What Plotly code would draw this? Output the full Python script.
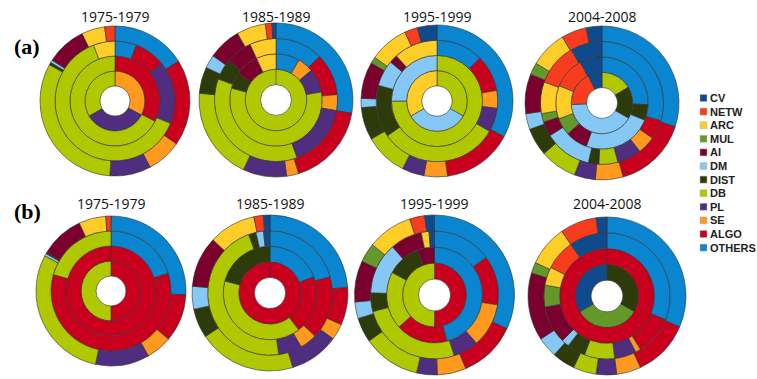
import plotly.graph_objects as go

W, H = 757, 379

CATEGORIES = ["CV", "NETW", "ARC", "MUL", "AI", "DM", "DIST", "DB", "PL", "SE", "ALGO", "OTHERS"]
COLORS = {
    "CV": "#0F4B8C", "NETW": "#F83C1E", "ARC": "#FFCD28", "MUL": "#64992A",
    "AI": "#7A002D", "DM": "#85C8F5", "DIST": "#2D3A0A", "DB": "#AFC800",
    "PL": "#4F2D7F", "SE": "#FF9A1E", "ALGO": "#C8001E", "OTHERS": "#0A86D0",
}
PERIODS = ["1975-1979", "1985-1989", "1995-1999", "2004-2008"]

# shares per ring (inner -> outer), clockwise from 12 o'clock, in degrees of the circle
A_1975 = [
    [("SE", 118), ("PL", 122), ("DB", 120)],
    [("ALGO", 117), ("DB", 243)],
    [("OTHERS", 21), ("ALGO", 30), ("PL", 61), ("DB", 227), ("ARC", 21)],
    [("OTHERS", 58), ("ALGO", 67), ("SE", 27), ("PL", 32), ("DB", 115), ("DIST", 2),
     ("DM", 2), ("AI", 31), ("ARC", 18), ("NETW", 8)],
]
A_1985 = [
    [("DB", 360)],
    [("OTHERS", 30), ("SE", 20), ("PL", 30), ("DB", 205), ("DIST", 20), ("AI", 30), ("ARC", 25)],
    [("OTHERS", 45), ("ALGO", 40), ("SE", 15), ("PL", 60), ("DB", 130), ("DIST", 20),
     ("AI", 25), ("ARC", 25)],
    [("OTHERS", 100), ("ALGO", 63), ("SE", 9), ("PL", 33), ("DB", 70), ("DIST", 20),
     ("DM", 10), ("AI", 25), ("ARC", 22), ("NETW", 5), ("CV", 3)],
]
A_1995 = [
    [("DB", 120), ("DM", 120), ("ARC", 120)],
    [("DB", 270), ("DM", 90)],
    [("OTHERS", 45), ("ALGO", 35), ("SE", 17), ("PL", 23), ("DB", 115), ("DIST", 50),
     ("DM", 25), ("AI", 8), ("ARC", 42)],
    [("OTHERS", 118), ("ALGO", 54), ("SE", 18), ("PL", 17), ("DB", 33), ("DIST", 25),
     ("DM", 7), ("AI", 28), ("MUL", 5), ("ARC", 30), ("NETW", 10), ("CV", 15)],
]
A_2004 = [
    [("DB", 59), ("DIST", 61), ("DM", 147), ("NETW", 66), ("CV", 27)],
    [("OTHERS", 92), ("DIST", 20), ("DM", 88), ("AI", 28), ("MUL", 22), ("ARC", 42),
     ("NETW", 40), ("CV", 28)],
    [("OTHERS", 107), ("ALGO", 18), ("SE", 17), ("PL", 23), ("DB", 18), ("DIST", 10),
     ("DM", 45), ("AI", 14), ("MUL", 8), ("ARC", 30), ("NETW", 40), ("CV", 30)],
    [("OTHERS", 108), ("ALGO", 56), ("SE", 21), ("PL", 16), ("DB", 28), ("DIST", 21),
     ("DM", 12), ("AI", 30), ("MUL", 9), ("ARC", 28), ("NETW", 19), ("CV", 12)],
]

B_1975 = [
    [("ALGO", 180), ("DB", 180)],
    [("ALGO", 360)],
    [("OTHERS", 73), ("ALGO", 213), ("DB", 74)],
    [("OTHERS", 93), ("ALGO", 37), ("SE", 20), ("PL", 42), ("DB", 106), ("DM", 2),
     ("DIST", 1), ("AI", 34), ("ARC", 21), ("NETW", 4)],
]
B_1985 = [
    [("ALGO", 360)],
    [("OTHERS", 70), ("ALGO", 72), ("DB", 143), ("DIST", 75)],
    [("OTHERS", 75), ("ALGO", 59), ("SE", 16), ("PL", 22), ("DB", 168), ("DIST", 7),
     ("DM", 7), ("CV", 6)],
    [("OTHERS", 86), ("ALGO", 28), ("SE", 12), ("PL", 37), ("DB", 73), ("DIST", 22),
     ("DM", 17), ("AI", 38), ("ARC", 35), ("NETW", 7), ("CV", 5)],
]
B_1995 = [
    [("ALGO", 180), ("DB", 180)],
    [("OTHERS", 165), ("ALGO", 63), ("DB", 70), ("DIST", 41), ("AI", 21)],
    [("OTHERS", 54), ("ALGO", 45), ("SE", 40), ("PL", 23), ("DB", 93), ("DIST", 17),
     ("DM", 47), ("AI", 29), ("ARC", 7), ("CV", 5)],
    [("OTHERS", 115), ("ALGO", 42), ("SE", 21), ("PL", 15), ("DB", 42), ("DIST", 18),
     ("DM", 12), ("AI", 30), ("MUL", 14), ("ARC", 33), ("NETW", 11), ("CV", 7)],
]
B_2004 = [
    [("DIST", 120), ("MUL", 120), ("CV", 120)],
    [("ALGO", 360)],
    [("OTHERS", 112), ("ALGO", 36), ("SE", 5), ("PL", 20), ("DB", 28), ("DIST", 17),
     ("DM", 7), ("AI", 35), ("MUL", 20), ("ARC", 17), ("NETW", 28), ("CV", 35)],
    [("OTHERS", 113), ("ALGO", 42), ("SE", 18), ("PL", 15), ("DB", 17), ("DIST", 17),
     ("DM", 15), ("AI", 50), ("MUL", 8), ("ARC", 30), ("NETW", 27), ("CV", 8)],
]

PANEL_A = [A_1975, A_1985, A_1995, A_2004]
PANEL_B = [B_1975, B_1985, B_1995, B_2004]

# layout (pixels): donut centers and outer radii, title positions
A_CENTERS = [(115, 101, 75), (276, 100, 77), (437, 101, 76), (602, 103, 77)]
B_CENTERS = [(111, 291, 75), (270, 293, 78), (434.5, 295, 80), (607, 296, 79)]
A_TITLE_Y = 16
B_TITLE_Y = 203
LINE_COLOR = "#333333"

fig = go.Figure()
shapes = []


def add_donut(rings, cx, cy, R):
    n = len(rings)
    for k, ring in enumerate(rings, start=1):
        Rk = R * (k + 1) / (n + 1)
        rk = R * k / (n + 1)
        labels = [c for c, _ in ring]
        values = [v for _, v in ring]
        fig.add_trace(go.Pie(
            labels=labels, values=values, sort=False, direction="clockwise",
            rotation=0, hole=k / (k + 1), textinfo="none", showlegend=False,
            hoverinfo="label+percent",
            marker=dict(colors=[COLORS[c] for c in labels],
                        line=dict(color=LINE_COLOR, width=0.6)),
            domain=dict(x=[(cx - Rk) / W, (cx + Rk) / W],
                        y=[1 - (cy + Rk) / H, 1 - (cy - Rk) / H]),
        ))
        if len(ring) == 1:
            # seam of a full ring at 12 o'clock
            shapes.append(dict(type="line", xref="paper", yref="paper",
                               x0=cx / W, x1=cx / W,
                               y0=1 - (cy - rk) / H, y1=1 - (cy - Rk) / H,
                               line=dict(color=LINE_COLOR, width=0.6)))


annotations = []
for panel, centers, ty in [(PANEL_A, A_CENTERS, A_TITLE_Y), (PANEL_B, B_CENTERS, B_TITLE_Y)]:
    for rings, (cx, cy, R), period in zip(panel, centers, PERIODS):
        add_donut(rings, cx, cy, R)
        annotations.append(dict(
            text=period, x=cx / W, y=1 - ty / H, xref="paper", yref="paper",
            xanchor="center", yanchor="middle", showarrow=False,
            font=dict(family="Open Sans", size=14, color="#111111")))

for lab, py in [("(a)", 46), ("(b)", 211)]:
    annotations.append(dict(
        text="<b>" + lab + "</b>", x=27 / W, y=1 - py / H, xref="paper", yref="paper",
        xanchor="center", yanchor="middle", showarrow=False,
        font=dict(family="Liberation Serif", size=22, color="#000000")))

LEG_X, LEG_Y0, LEG_DY = 700, 98, 13.6
for i, cat in enumerate(CATEGORIES):
    y = LEG_Y0 + i * LEG_DY
    shapes.append(dict(type="rect", xref="paper", yref="paper",
                       x0=LEG_X / W, x1=(LEG_X + 7) / W,
                       y0=1 - (y + 3.5) / H, y1=1 - (y - 3.5) / H,
                       fillcolor=COLORS[cat], line=dict(color="#bbbbbb", width=0.5)))
    annotations.append(dict(
        text="<b>" + cat + "</b>", x=(LEG_X + 8) / W, y=1 - y / H, xref="paper", yref="paper",
        xanchor="left", yanchor="middle", showarrow=False,
        font=dict(family="Liberation Sans", size=11, color="#222222")))

fig.update_layout(
    width=W, height=H, margin=dict(l=0, r=0, t=0, b=0),
    paper_bgcolor="white", plot_bgcolor="white", showlegend=False,
    annotations=annotations, shapes=shapes,
)

fig.write_html("out.html")
